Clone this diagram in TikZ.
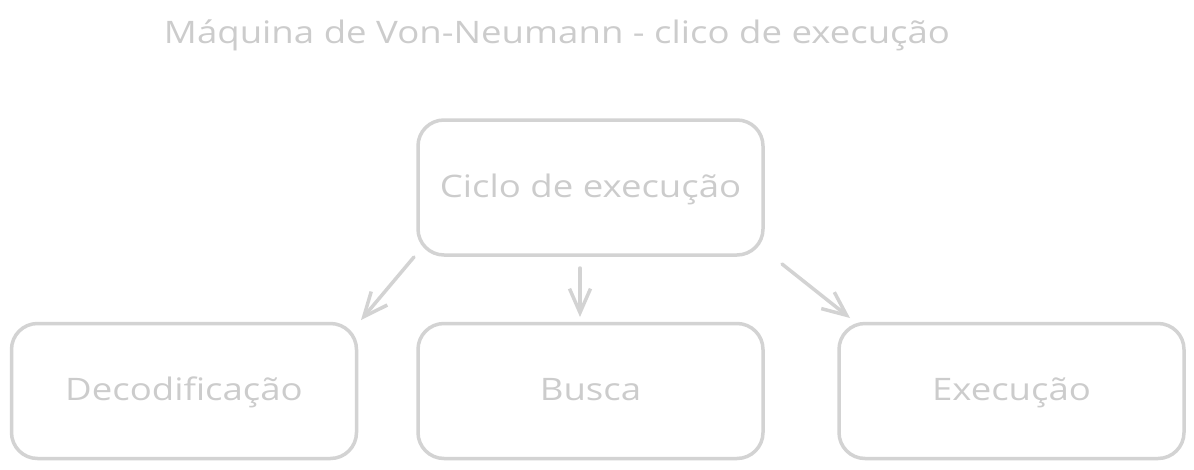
\documentclass[tikz,border=0pt]{standalone}
\usepackage{fontspec}
\setmainfont{Open Sans}[FakeStretch=1.18]
\usetikzlibrary{arrows.meta}
\definecolor{sketch}{HTML}{D3D3D3}
\definecolor{sketchtext}{HTML}{CCCCCC}
\begin{document}
\begin{tikzpicture}[x=1pt,y=-1pt,
  box/.style={draw=sketch,line width=3.5pt,rounded corners=26pt,minimum width=345pt,minimum height=135pt,inner sep=0pt,text=sketchtext,font=\fontsize{31}{34}\selectfont,text height=24pt,text depth=5pt},
  conn/.style={draw=sketch,line width=3.5pt,line cap=round,-{Straight Barb[length=24pt,width=21pt,line width=3.5pt]}},
  title/.style={text=sketchtext,font=\fontsize{31}{34}\selectfont,inner sep=0pt}]
\useasboundingbox (0,0) rectangle (1194,469);
\node[title,anchor=base] (t) at (557,43) {Máquina de Von-Neumann - clico de execução};
\node[box] (ciclo) at (590.5,187.5) {Ciclo de execução};
\node[box] (dec) at (184,391) {Decodificação};
\node[box] (bus) at (590.5,391) {Busca};
\node[box] (exe) at (1011.5,391) {Execução};
\coordinate (a1) at (414,257);
\coordinate (a2) at (580,268);
\coordinate (a3) at (782,264);
\coordinate (b1) at (361,320);
\coordinate (b2) at (580,317);
\coordinate (b3) at (850,318);
\draw[conn] (a1) -- (b1);
\draw[conn] (a2) -- (b2);
\draw[conn] (a3) -- (b3);
\end{tikzpicture}
\end{document}
